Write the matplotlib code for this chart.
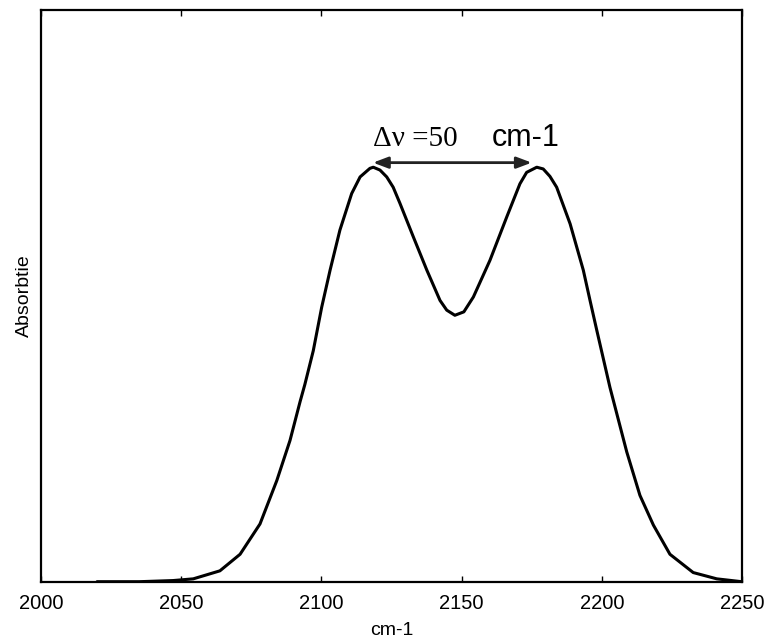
import matplotlib
matplotlib.use("Agg")
import matplotlib.pyplot as plt

# IR absorption band: wavenumber (cm-1) and absorbance (arbitrary units)
wavenumber = [2020.0, 2035.0, 2047.1, 2054.3, 2063.8, 2071.0, 2078.1, 2084.1,
              2088.8, 2092.4, 2094.1, 2097.1, 2100.1, 2103.1, 2106.6, 2110.8,
              2113.8, 2117.3, 2118.5, 2120.9, 2123.3, 2125.6, 2128.0, 2132.8,
              2137.6, 2142.3, 2144.7, 2147.6, 2150.8, 2154.2, 2160.1, 2166.1,
              2170.8, 2173.2, 2176.8, 2179.1, 2181.5, 2183.9, 2188.7, 2193.4,
              2195.8, 2198.2, 2202.9, 2208.9, 2213.6, 2218.4, 2224.3,
              2232.6, 2241.0, 2249.9]
absorbance = [0.000, 0.000, 0.002, 0.005, 0.019, 0.048, 0.101, 0.177,
              0.247, 0.315, 0.345, 0.404, 0.480, 0.545, 0.615, 0.679,
              0.708, 0.723, 0.725, 0.720, 0.708, 0.690, 0.662, 0.603,
              0.545, 0.492, 0.475, 0.466, 0.472, 0.498, 0.562, 0.638,
              0.696, 0.716, 0.725, 0.722, 0.709, 0.690, 0.626, 0.545,
              0.492, 0.440, 0.340, 0.227, 0.151, 0.099, 0.048,
              0.016, 0.005, 0.000]

x_ticks = [2000, 2050, 2100, 2150, 2200, 2250]

# Peak separation annotation
peak_left = 2118.4
peak_right = 2175.0
arrow_level = 0.733
delta_text = "\u0394\u03bd =50"
unit_text = "cm-1"

fig = plt.figure(figsize=(7.65, 6.4), dpi=100)
ax = fig.add_axes([41 / 765, 1 - 581.7 / 640, (742 - 41) / 765, (581.7 - 10) / 640])

ax.plot(wavenumber, absorbance, color="black", lw=2.2,
        solid_joinstyle="round", solid_capstyle="round")

ax.set_xlim(2000, 2250)
ax.set_ylim(0, 1)
ax.set_xticks(x_ticks)
ax.set_xticklabels([str(t) for t in x_ticks], family="Liberation Sans", fontsize=14.5)
ax.set_yticks([])
ax.tick_params(axis="x", direction="in", top=True, bottom=True, length=4, width=1, pad=9)
for s in ax.spines.values():
    s.set_linewidth(1.6)

ax.set_xlabel("cm-1", family="Liberation Sans", fontsize=14, labelpad=6)
ax.set_ylabel("Absorbtie", family="Liberation Sans", fontsize=14, labelpad=6)

ax.annotate("", xy=(peak_left, arrow_level), xytext=(peak_right, arrow_level),
            arrowprops=dict(arrowstyle="<|-|>,head_length=0.45,head_width=0.17",
                            mutation_scale=20, color="#222222", lw=2.0,
                            shrinkA=0, shrinkB=0))
ax.text(peak_left, 0.762, delta_text, family="Liberation Serif", fontsize=21,
        ha="left", va="baseline")
ax.text(2160.8, 0.762, unit_text, family="Liberation Sans", fontsize=22,
        ha="left", va="baseline")

fig.savefig("out.png", dpi=100)
